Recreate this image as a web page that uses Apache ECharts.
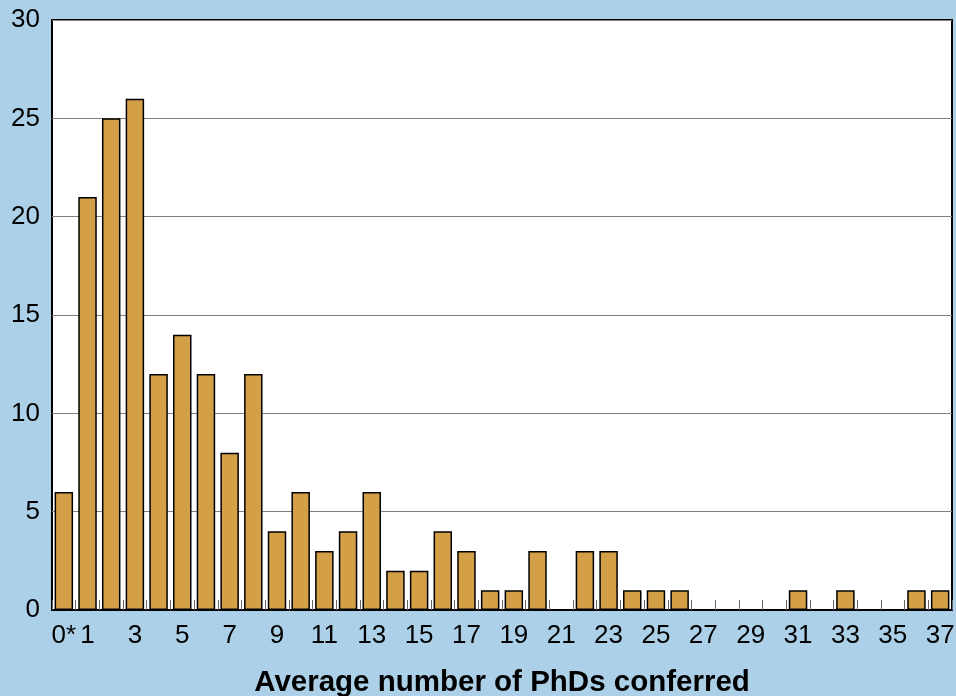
<!DOCTYPE html>
<html>
<head>
<meta charset="utf-8">
<script src="https://cdn.jsdelivr.net/npm/echarts@6/dist/echarts.min.js"></script>
<style>
html,body{margin:0;padding:0;background:#abd0e7}
#main{width:956px;height:696px}
</style>
</head>
<body>
<div id="main"></div>
<script>
// categories: avg PhDs conferred, first one is the "0*" bucket
var categories=["0*","1","2","3","4","5","6","7","8","9","10","11","12","13","14","15","16","17","18","19",
  "20","21","22","23","24","25","26","27","28","29","30","31","32","33","34","35","36","37"]
var counts=[6,21,25,26,12,14,12,8,12,4,6,3,4,6,2,2,4,3,1,1,
  3,0,3,3,1,1,1,0,0,0,0,1,0,1,0,0,1,1]
var yTicks=[0,5,10,15,20,25,30]

var chart=echarts.init(document.getElementById('main'))
var option={
    backgroundColor:'#abd0e7',
    animation:false,
    grid:{
        left:52,right:4,top:20,bottom:86,
        outerBoundsMode:'none',
        show:true,
        backgroundColor:'#ffffff',
        borderColor:'#000000',
        borderWidth:2
    },
    xAxis:{
        type:'category',
        data:categories,
        name:'Average number of PhDs conferred',
        nameLocation:'middle',
        nameGap:58,
        nameTextStyle:{fontFamily:'Liberation Sans',fontSize:29.5,fontWeight:'bold',color:'#000'},
        axisLine:{lineStyle:{color:'#000',width:2}},
        axisTick:{show:true,inside:true,length:10,interval:0,lineStyle:{color:'#666',width:1}},
        axisLabel:{
            interval:function(i){return i===0||i%2===1},
            fontFamily:'Liberation Sans',fontSize:26,color:'#000',margin:13
        }
    },
    yAxis:{
        type:'value',
        min:yTicks[0],max:yTicks[yTicks.length-1],interval:5,
        axisLine:{show:false},
        axisTick:{show:false},
        splitLine:{lineStyle:{color:'#808080',width:1.2}},
        axisLabel:{fontFamily:'Liberation Sans',fontSize:26,color:'#000',margin:12}
    },
    series:[{
        type:'bar',
        data:counts,
        barCategoryGap:'22%',
        itemStyle:{color:'#d4a047',borderColor:'#000',borderWidth:1.5}
    }]
}
chart.setOption(option)
</script>
</body>
</html>
